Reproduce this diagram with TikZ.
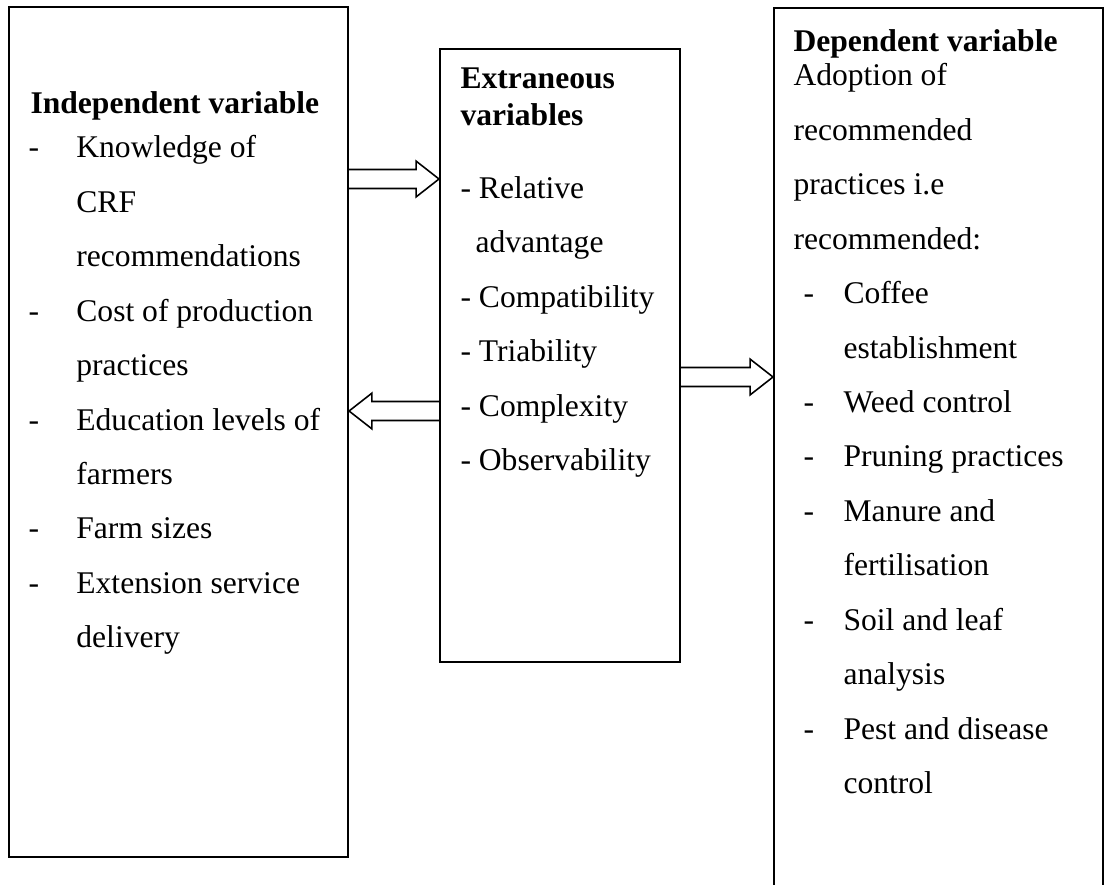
\documentclass[tikz,border=0pt]{standalone}
\usepackage{fontspec}
\setmainfont{Liberation Serif}
\usepackage{tikz}
\usetikzlibrary{calc}
\newcommand{\dashlead}[1]{\makebox[#1][l]{-}}
\newcommand{\padlead}[1]{\hspace*{#1}}
% hollow block arrow between two box sides, at height #3 (px)
\newcommand{\hollowarrow}[3]{%
  \draw[hollowline] let \p1=(#1), \p2=(#2), \p3=(0,#3), \n1={sign(\x2-\x1)} in
    (\x1,\y3+3.6pt) -- (\x2-\n1*8.7pt,\y3+3.6pt) -- (\x2-\n1*8.7pt,\y3+6.8pt)
    -- (\x2,\y3) -- (\x2-\n1*8.7pt,\y3-6.8pt) -- (\x2-\n1*8.7pt,\y3-3.6pt)
    -- (\x1,\y3-3.6pt);}
\tikzset{
  varbox/.style={draw, line width=0.8pt, anchor=north west, inner sep=0pt},
  bodytext/.style={anchor=north west, inner sep=0pt, align=left,
                   font=\fontsize{12pt}{#1}\selectfont, yshift={0.7*#1},
                   execute at begin node=\strut},
  headtext/.style={bodytext=#1, font=\fontsize{12pt}{#1}\selectfont\bfseries},
  hollowline/.style={line width=0.6pt, line join=miter},
}
\begin{document}
\begin{tikzpicture}[x=0.38pt, y=-0.38pt]
  \clip (0,0) rectangle (1108,884);
  \fill[white] (0,0) rectangle (1108,884);
  % the three boxes
  \node[varbox, minimum width=128.8pt, minimum height=323pt] (indep) at (8,6) {};
  \node[varbox, minimum width=91.2pt, minimum height=232.9pt] (extr) at (439,48) {};
  \node[varbox, minimum width=125pt, minimum height=342pt] (dep) at (773,7) {};
  % independent variable
  \node[headtext=20.7pt] (indephead) at (30,113) {Independent variable};
  \node[bodytext=20.7pt] (indepbody) at (28,173)
    {\dashlead{18.2pt}Knowledge of\\
     \padlead{18.2pt}CRF\\
     \padlead{18.2pt}recommendations\\
     \dashlead{18.2pt}Cost of production\\
     \padlead{18.2pt}practices\\
     \dashlead{18.2pt}Education levels of\\
     \padlead{18.2pt}farmers\\
     \dashlead{18.2pt}Farm sizes\\
     \dashlead{18.2pt}Extension service\\
     \padlead{18.2pt}delivery};
  % extraneous variables
  \node[headtext=13.7pt] (extrhead) at (460,93) {Extraneous\\variables};
  \node[bodytext=20.7pt] (extrbody) at (460,214)
    {- Relative\\
     \padlead{5.7pt}advantage\\
     - Compatibility\\
     - Triability\\
     - Complexity\\
     - Observability};
  % dependent variable
  \node[headtext=20.7pt] (dephead) at (793,51) {Dependent variable};
  \node[bodytext=20.7pt] (depbody) at (793,101)
    {Adoption of\\
     recommended\\
     practices i.e\\
     recommended:\\
     \padlead{3.8pt}\dashlead{15.2pt}Coffee\\
     \padlead{19pt}establishment\\
     \padlead{3.8pt}\dashlead{15.2pt}Weed control\\
     \padlead{3.8pt}\dashlead{15.2pt}Pruning practices\\
     \padlead{3.8pt}\dashlead{15.2pt}Manure and\\
     \padlead{19pt}fertilisation\\
     \padlead{3.8pt}\dashlead{15.2pt}Soil and leaf\\
     \padlead{19pt}analysis\\
     \padlead{3.8pt}\dashlead{15.2pt}Pest and disease\\
     \padlead{19pt}control};
  % block arrows
  \hollowarrow{indep.east}{extr.west}{179}
  \hollowarrow{extr.west}{indep.east}{411}
  \hollowarrow{extr.east}{dep.west}{377}
\end{tikzpicture}
\end{document}
